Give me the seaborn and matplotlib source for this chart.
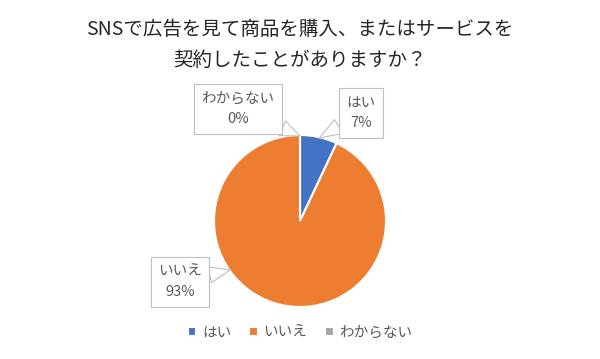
import numpy as np
import matplotlib
matplotlib.use("Agg")
import matplotlib.pyplot as plt
import seaborn as sns

# データ
labels = ["はい", "いいえ", "わからない"]
values = [7, 93, 0]
colors = ["#4472C4", "#ED7D31", "#A5A5A5"]
title = "SNSで広告を見て商品を購入、またはサービスを\n契約したことがありますか？"

sns.set_theme(style="white")
plt.rcParams['font.family'] = ['Noto Sans CJK JP', 'DejaVu Sans']

fig = plt.figure(figsize=(6, 3.59), dpi=100)
ax = fig.add_axes([0, 0, 1, 1])

cx, cy, r = 300, 359 - 221, 86
wedges, _ = ax.pie(values, colors=colors, startangle=90, counterclock=False,
                   center=(cx, cy), radius=r, frame=True,
                   wedgeprops=dict(edgecolor='white', linewidth=1.5))
ax.set_xlim(0, 600)
ax.set_ylim(0, 359)
ax.axis('off')

ax.text(300, 359 - 45, title, ha='center', va='center', fontsize=14,
        color='#262626', linespacing=1.6)

# 吹き出しラベル (ボックス位置, 指す角度)
label_pos = [(361, 359 - 113), (180, 359 - 282), (238, 359 - 109)]
tip_angle = [77, 215, 90]
for lab, v, (tx, ty), ang in zip(labels, values, label_pos, tip_angle):
    a = np.deg2rad(ang)
    tip = (cx + (r - 1) * np.cos(a), cy + (r - 1) * np.sin(a))
    ax.annotate(f"{lab}\n{v}%", xy=tip, xytext=(tx, ty), ha='center', va='center',
                fontsize=10.5, color='#595959', linespacing=1.6,
                bbox=dict(boxstyle='square,pad=0.5', fc='white', ec='#BFBFBF', lw=0.8),
                arrowprops=dict(arrowstyle='wedge,tail_width=1.1,shrink_factor=0.5',
                                fc='white', ec='#BFBFBF', lw=0.8,
                                shrinkA=0, shrinkB=0))

ax.legend(wedges, labels, loc='center', bbox_to_anchor=(0.5, 1 - 333 / 359),
          ncol=3, frameon=False, fontsize=10.5, labelcolor='#595959',
          handlelength=0.6, handleheight=0.6, handletextpad=0.4, columnspacing=1.2)

plt.savefig("out.png", dpi=100)
